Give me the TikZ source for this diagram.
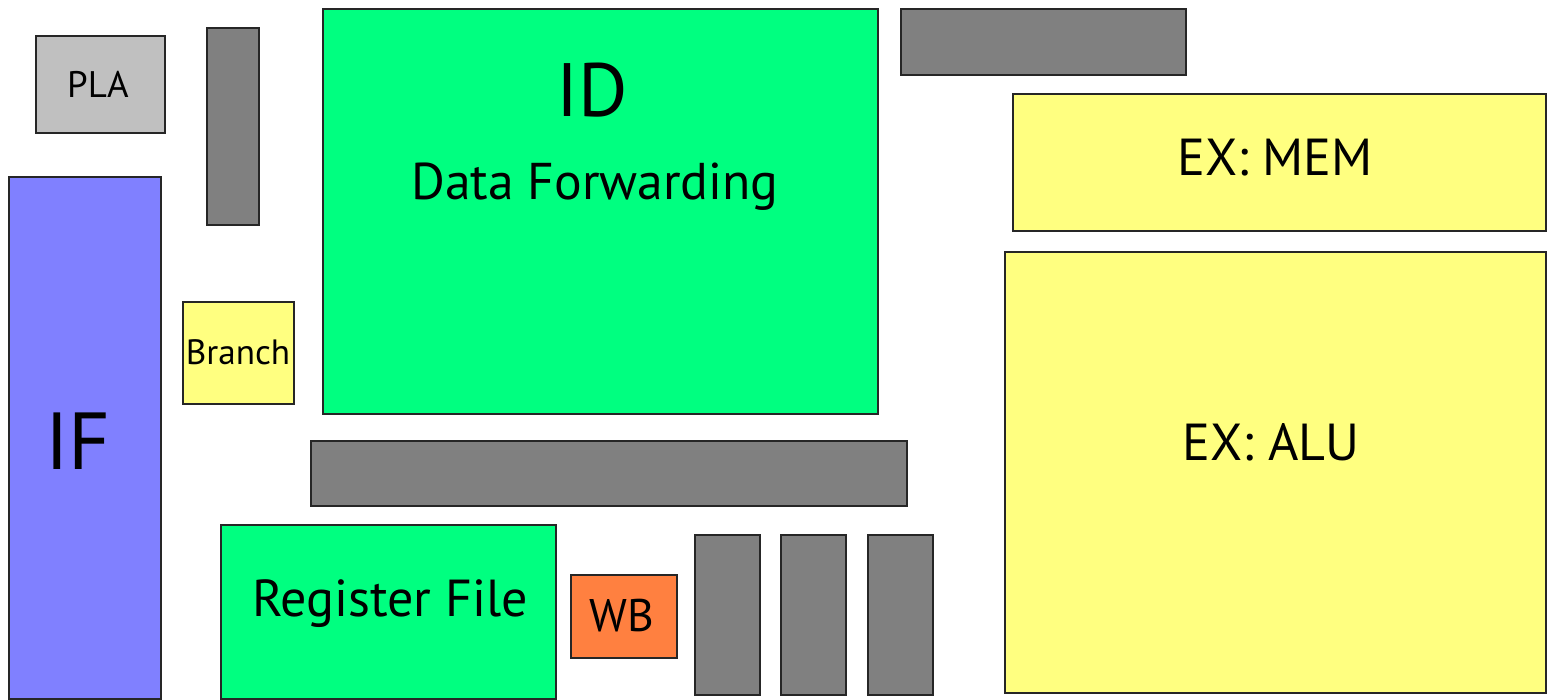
\documentclass[tikz,border=0pt]{standalone}
\usepackage{fontspec}
\setmainfont{PT Sans}
\definecolor{regbar}{HTML}{808080}
\definecolor{plagray}{HTML}{C0C0C0}
\definecolor{stagegreen}{HTML}{00FF80}
\definecolor{stageyellow}{HTML}{FFFF80}
\definecolor{stageblue}{HTML}{8080FF}
\definecolor{stageorange}{HTML}{FF8040}
\tikzset{
  blk/.style={draw=black!85,line width=0.7pt},
}
\begin{document}
\begin{tikzpicture}[x=0.01cm,y=-0.01cm]
\useasboundingbox (0,0) rectangle (1547,700);
% pipeline registers
\draw[blk,fill=regbar](207,28) rectangle (259,225);
\draw[blk,fill=regbar](901,9) rectangle (1186,75);
\draw[blk,fill=regbar](311,441) rectangle (907,506);
\foreach \x in{695,781,868}
{
    \draw[blk,fill=regbar](\x,535) rectangle (\x+65,695);
}
% stages
\draw[blk,fill=plagray](36,36) rectangle (165,133);
\draw[blk,fill=stageblue](9,177) rectangle (161,699);
\draw[blk,fill=stageyellow](183,302) rectangle (294,404);
\draw[blk,fill=stagegreen](323,9) rectangle (878,414);
\draw[blk,fill=stagegreen](221,525) rectangle (556,699);
\draw[blk,fill=stageorange](571,575) rectangle (677,658);
\draw[blk,fill=stageyellow](1013,94) rectangle (1546,231);
\draw[blk,fill=stageyellow](1005,252) rectangle (1546,693);

\node (pla) at (98,84) {\fontsize{10.5}{12}\selectfont PLA};
\node (if) at (78,441) {\fontsize{23}{26}\selectfont IF};
\node (branch) at (238,352) {\fontsize{10}{11}\selectfont Branch};
\node (id) at (592,90) {\fontsize{21.5}{25}\selectfont ID};
\node (fwd) at (595,187) {\fontsize{14.7}{17}\selectfont Data Forwarding};
\node (regfile) at (390,604) {\fontsize{14.8}{17}\selectfont Register File};
\node (wb) at (622,616) {\fontsize{13}{15}\selectfont WB};
\node (exmem) at (1275,158) {\fontsize{14.8}{18}\selectfont EX: MEM};
\node (exalu) at (1271,442) {\fontsize{14.8}{18}\selectfont EX: ALU};

\end{tikzpicture}
\end{document}
